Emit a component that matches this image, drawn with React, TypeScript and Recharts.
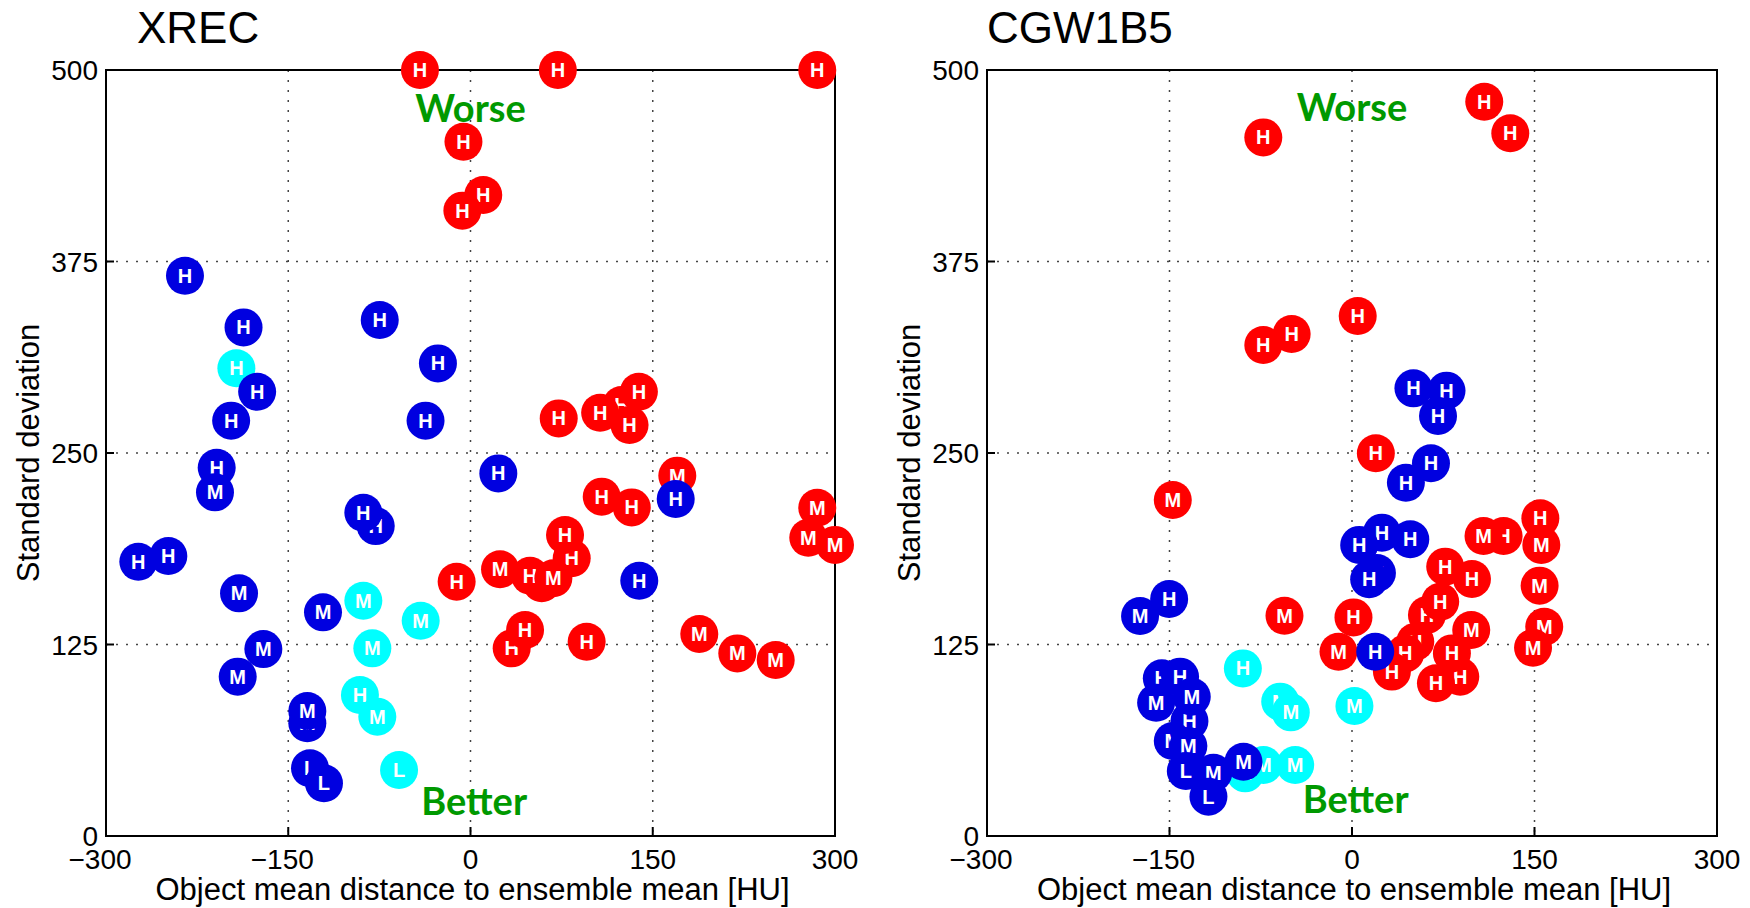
import React from 'react';
import {
  ScatterChart,
  Scatter,
  XAxis,
  YAxis,
  CartesianGrid,
  ReferenceArea,
  ReferenceDot,
} from 'recharts';

type Row = [number, number, string];

const X_TICKS = [-300, -150, 0, 150, 300];
const Y_TICKS = [0, 125, 250, 375, 500];

const RED = '#ff0000';
const BLUE = '#0000e0';
const CYAN = '#00ffff';
const GREEN = '#009900';
const FONT = '"Liberation Sans", Arial, Helvetica, sans-serif';

// XREC panel: [mean distance, standard deviation, class]
const XREC_CYAN: Row[] = [
  [-192.7, 305.3, 'H'], [-88.2, 153.6, 'M'], [-41, 140.5, 'M'], [-80.8, 122.5, 'M'],
  [-91, 92, 'H'], [-76.7, 77.9, 'M'], [-58.8, 43.1, 'L'],
];
const XREC_RED: Row[] = [
  [-41.6, 500, 'H'], [71.9, 500, 'H'], [285.4, 500, 'H'], [-5.8, 453.2, 'H'],
  [10.5, 418.4, 'H'], [-6.7, 408.2, 'H'], [124.3, 281.3, 'H'], [72.6, 272.6, 'H'],
  [106.7, 276.3, 'H'], [138.6, 290, 'H'], [130.9, 268.3, 'H'], [108, 221.5, 'H'],
  [132.7, 214.5, 'H'], [170.2, 235.2, 'M'], [285.4, 214.3, 'M'], [300, 190, 'M'],
  [278, 194.7, 'M'], [-11.4, 166, 'H'], [58.6, 165, 'H'], [49, 169.9, 'H'],
  [83.3, 181.3, 'H'], [77.8, 196.5, 'H'], [68.2, 168.2, 'M'], [24.3, 174.1, 'M'],
  [33.9, 122.5, 'H'], [44.9, 134.5, 'H'], [95.6, 126.8, 'H'], [188.3, 131.9, 'M'],
  [219.6, 119.2, 'M'], [251.2, 114.9, 'M'],
];
const XREC_BLUE: Row[] = [
  [-235, 365.7, 'H'], [-186.8, 332, 'H'], [-74.7, 336.8, 'H'], [-175.6, 290, 'H'],
  [-26.8, 308.5, 'H'], [-197, 271.1, 'H'], [-37, 271.1, 'H'], [-208.9, 240.4, 'H'],
  [-210.3, 224.3, 'M'], [-273.4, 179, 'H'], [-248.7, 182.8, 'H'], [-190.5, 158.4, 'M'],
  [-170.5, 122, 'M'], [-191.6, 104, 'M'], [-78, 202.3, 'H'], [-88.2, 211, 'H'],
  [-121.4, 146, 'M'], [-134.3, 73.6, 'M'], [-134.3, 81.6, 'M'], [-132.1, 44.2, 'L'],
  [-120.6, 34.4, 'L'], [22.9, 236.7, 'H'], [168.9, 220, 'H'], [138.9, 166.6, 'H'],
];

// CGW1B5 panel
const CGW_CYAN: Row[] = [
  [-89.7, 109.4, 'H'], [-59, 87.7, 'M'], [-50.3, 80.7, 'M'], [2, 84.9, 'M'],
  [-87.8, 40.9, 'M'], [-72.8, 46.3, 'M'], [-46.7, 46.3, 'M'],
];
const CGW_RED: Row[] = [
  [-72.9, 456, 'H'], [108.7, 479.3, 'H'], [130.1, 458.7, 'H'], [-49.6, 327.7, 'H'],
  [-72.9, 320.5, 'H'], [4.7, 339.4, 'H'], [19.6, 249.8, 'H'], [-147.3, 219.3, 'M'],
  [-55.5, 143.8, 'M'], [124.6, 195.8, 'H'], [108.1, 195.8, 'M'], [154.8, 207.4, 'H'],
  [155.6, 190, 'M'], [154.2, 163.4, 'M'], [158, 136.6, 'M'], [148.8, 122.9, 'M'],
  [76.6, 175.8, 'H'], [98.6, 167.8, 'H'], [61.6, 144.3, 'H'], [72.5, 152.9, 'H'],
  [98, 134.5, 'M'], [1.2, 142.7, 'H'], [-11.1, 120.3, 'M'], [52, 126.8, 'H'],
  [43.8, 119.2, 'H'], [32.8, 107.3, 'H'], [89, 104, 'H'], [82.1, 119.2, 'H'],
  [69, 99.7, 'H'],
];
const CGW_BLUE: Row[] = [
  [50.5, 292.2, 'H'], [77.7, 290.7, 'H'], [70.7, 274.2, 'H'], [64.9, 243.3, 'H'],
  [44.3, 230.6, 'H'], [24.6, 198, 'H'], [47.9, 193.7, 'H'], [5.9, 190, 'H'],
  [20.5, 171.7, 'H'], [14.1, 167.6, 'H'], [-174.2, 143.6, 'M'], [-150.3, 154.7, 'H'],
  [19.1, 120.3, 'H'], [-156.3, 102.9, 'H'], [-141.3, 104, 'H'], [-133.6, 75.1, 'H'],
  [-161, 87, 'M'], [-131.7, 90.9, 'M'], [-147.3, 62, 'M'], [-134.5, 58.7, 'M'],
  [-136.6, 42.4, 'L'], [-113.9, 41.3, 'M'], [-118, 25.7, 'L'], [-89.2, 48.5, 'M'],
];

const toPoints = (rows: Row[]) => rows.map(([x, y, label]) => ({ x, y, label }));

const fmt = (v: number) => (v < 0 ? `\u2212${Math.abs(v)}` : `${v}`);

// inward tick marks + labels (matlab style)
function XTick(props: any) {
  const { x, y, payload } = props;
  const v = payload.value as number;
  return (
    <g>
      <line x1={x} y1={y} x2={x} y2={y - 9} stroke="#000" strokeWidth={2} />
      <text x={x} y={y + 33} dx={v < 0 ? -6 : 0} textAnchor="middle" fontSize={28} fontFamily={FONT} fill="#000">
        {fmt(v)}
      </text>
    </g>
  );
}

function YTick(props: any) {
  const { x, y, payload } = props;
  return (
    <g>
      <line x1={x} y1={y} x2={x + 8} y2={y} stroke="#000" strokeWidth={2} />
      <text x={x - 8} y={y + 10} textAnchor="end" fontSize={28} fontFamily={FONT} fill="#000">
        {payload.value}
      </text>
    </g>
  );
}

const marker = (color: string) => (props: any) => {
  const { cx, cy, payload } = props;
  return (
    <g>
      <circle cx={cx} cy={cy} r={19} fill={color} />
      <text x={cx} y={cy + 7} textAnchor="middle" fontSize={20} fontWeight="bold" fontFamily={FONT} fill="#fff">
        {payload.label}
      </text>
    </g>
  );
};

const greenText = (text: string) => (props: any) => (
  <text x={props.cx} y={props.cy} textAnchor="middle" fontSize={38} fontWeight="bold" fontFamily="Lato, 'Open Sans', sans-serif" fill={GREEN}>
    {text}
  </text>
);

interface PanelProps {
  left: number;
  title: string;
  titleX: number;
  axisWidth: number;
  marginRight: number;
  cyan: Row[];
  red: Row[];
  blue: Row[];
  worse: [number, number];
  better: [number, number];
}

function Panel({ left, title, titleX, axisWidth, marginRight, cyan, red, blue, worse, better }: PanelProps) {
  const W = 875;
  const H = 908;
  const plotCenter = axisWidth + (W - axisWidth - marginRight) / 2;
  return (
    <div style={{ position: 'absolute', left, top: 0, width: W, height: H }}>
      <ScatterChart width={W} height={H} margin={{ top: 70, right: marginRight, bottom: 0, left: 0 }}>
        <CartesianGrid stroke="#444" strokeWidth={1.5} strokeDasharray="2 8" />
        <XAxis
          type="number"
          dataKey="x"
          domain={[-300, 300]}
          ticks={X_TICKS}
          interval={0}
          height={72}
          tickSize={0}
          tickMargin={0}
          tickLine={false}
          axisLine={false}
          tick={(p: any) => <XTick {...p} />}
        />
        <YAxis
          type="number"
          dataKey="y"
          domain={[0, 500]}
          ticks={Y_TICKS}
          interval={0}
          width={axisWidth}
          tickSize={0}
          tickMargin={0}
          tickLine={false}
          axisLine={false}
          tick={(p: any) => <YTick {...p} />}
        />
        <ReferenceArea x1={-300} x2={300} y1={0} y2={500} fill="none" fillOpacity={0} stroke="#000" strokeWidth={2} />
        <ReferenceDot x={worse[0]} y={worse[1]} r={0} shape={greenText('Worse')} />
        <ReferenceDot x={better[0]} y={better[1]} r={0} shape={greenText('Better')} />
        <Scatter data={toPoints(cyan)} shape={marker(CYAN)} isAnimationActive={false} />
        <Scatter data={toPoints(red)} shape={marker(RED)} isAnimationActive={false} />
        <Scatter data={toPoints(blue)} shape={marker(BLUE)} isAnimationActive={false} />
      </ScatterChart>
      <svg width={W} height={H} style={{ position: 'absolute', left: 0, top: 0, pointerEvents: 'none' }}>
        <text x={titleX} y={43} fontSize={44} fontFamily={FONT} fill="#000">
          {title}
        </text>
        <text x={plotCenter + 2} y={900} textAnchor="middle" fontSize={31} fontFamily={FONT} fill="#000">
          Object mean distance to ensemble mean [HU]
        </text>
        <text
          x={axisWidth - 67}
          y={453}
          transform={`rotate(-90, ${axisWidth - 67}, 453)`}
          textAnchor="middle"
          fontSize={31}
          fontFamily={FONT}
          fill="#000"
        >
          Standard deviation
        </text>
      </svg>
    </div>
  );
}

export default function App() {
  return (
    <div style={{ position: 'absolute', left: 0, top: 0, width: 1750, height: 908, background: '#fff' }}>
      <Panel
        left={0}
        title="XREC"
        titleX={137}
        axisWidth={106}
        marginRight={40}
        cyan={XREC_CYAN}
        red={XREC_RED}
        blue={XREC_BLUE}
        worse={[0, 466]}
        better={[3, 14]}
      />
      <Panel
        left={875}
        title="CGW1B5"
        titleX={112}
        axisWidth={112}
        marginRight={33}
        cyan={CGW_CYAN}
        red={CGW_RED}
        blue={CGW_BLUE}
        worse={[0, 467]}
        better={[3, 15]}
      />
    </div>
  );
}
